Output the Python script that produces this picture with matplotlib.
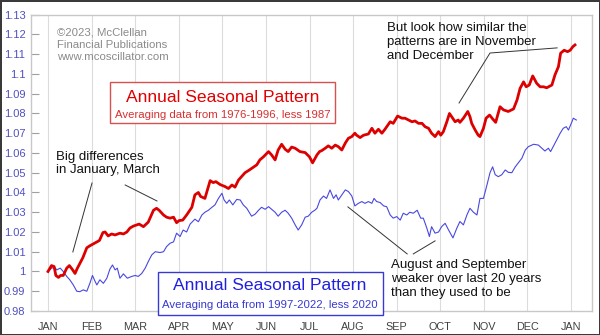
import matplotlib
matplotlib.use("Agg")
import matplotlib.pyplot as plt
from matplotlib.patches import Rectangle

plt.rcParams['font.family'] = ['Liberation Sans', 'DejaVu Sans']

# x positions are in months from Jan 1 (0 = JAN, 12 = next JAN)
red_x = [0.00, 0.08, 0.14, 0.18, 0.24, 0.29, 0.35, 0.43, 0.49, 0.56, 0.62, 0.67, 0.73, 0.80, 0.89, 0.96,
         1.04, 1.12, 1.18, 1.26, 1.31, 1.38, 1.46, 1.54, 1.65, 1.73, 1.81, 1.88, 1.96, 2.04, 2.09, 2.19,
         2.30, 2.42, 2.49, 2.55, 2.65, 2.72, 2.80, 2.88, 2.95, 3.01, 3.09, 3.18, 3.30, 3.37, 3.45, 3.50,
         3.60, 3.72, 3.79, 3.85, 3.95, 4.06, 4.14, 4.22, 4.29, 4.37, 4.44, 4.52, 4.62, 4.71, 4.79, 4.86,
         4.94, 5.06, 5.13, 5.21, 5.28, 5.36, 5.44, 5.51, 5.59, 5.67, 5.78, 5.90, 6.00, 6.07, 6.17, 6.23,
         6.28, 6.36, 6.43, 6.51, 6.59, 6.66, 6.74, 6.82, 6.89, 6.97, 7.04, 7.08, 7.16, 7.24, 7.35, 7.43,
         7.50, 7.58, 7.66, 7.73, 7.85, 7.92, 8.02, 8.12, 8.19, 8.27, 8.35, 8.42, 8.50, 8.58, 8.65, 8.73,
         8.80, 8.88, 8.96, 9.01, 9.07, 9.15, 9.21, 9.26, 9.34, 9.41, 9.45, 9.53, 9.63, 9.68, 9.72, 9.80,
         9.87, 9.91, 9.99, 10.05, 10.13, 10.21, 10.27, 10.37, 10.45, 10.56, 10.68, 10.76, 10.83, 10.91,
         10.97, 11.04, 11.12, 11.21, 11.29, 11.37, 11.44, 11.56, 11.63, 11.71, 11.76, 11.84, 11.92, 11.98,
         12.04, 12.09]
red_v = [1.000, 1.003, 1.0025, 0.998, 0.997, 0.998, 0.998, 1.0017, 1.003, 1.001, 0.999, 1.0015, 1.004,
         1.007, 1.012, 1.013, 1.014, 1.015, 1.0157, 1.0197, 1.020, 1.018, 1.019, 1.0185, 1.0194, 1.019,
         1.020, 1.022, 1.023, 1.0236, 1.024, 1.0227, 1.025, 1.031, 1.032, 1.031, 1.0286, 1.0275, 1.027,
         1.0275, 1.0247, 1.0258, 1.026, 1.0286, 1.0325, 1.0388, 1.040, 1.038, 1.037, 1.046, 1.045, 1.0455,
         1.044, 1.043, 1.042, 1.0438, 1.0427, 1.0463, 1.048, 1.050, 1.0514, 1.0528, 1.054, 1.0565, 1.058,
         1.0607, 1.059, 1.0565, 1.0615, 1.0644, 1.0619, 1.0607, 1.063, 1.0624, 1.0607, 1.0602, 1.058,
         1.055, 1.059, 1.0607, 1.0612, 1.0624, 1.0636, 1.0624, 1.064, 1.0632, 1.0615, 1.065, 1.0674,
         1.0683, 1.070, 1.069, 1.0678, 1.069, 1.0696, 1.0725, 1.070, 1.072, 1.070, 1.072, 1.0758, 1.075,
         1.0787, 1.0776, 1.0776, 1.0767, 1.0758, 1.0762, 1.075, 1.075, 1.0733, 1.0725, 1.070, 1.0683,
         1.0708, 1.069, 1.0708, 1.0758, 1.080, 1.0784, 1.0758, 1.0767, 1.0755, 1.0776, 1.081, 1.0784,
         1.075, 1.0716, 1.069, 1.0683, 1.0725, 1.0776, 1.0792, 1.077, 1.0755, 1.0834, 1.0818, 1.081,
         1.0823, 1.0868, 1.0927, 1.096, 1.0935, 1.0944, 1.099, 1.0953, 1.0935, 1.0935, 1.093, 1.0944,
         1.0995, 1.1037, 1.1105, 1.112, 1.1113, 1.112, 1.1138, 1.1147]

blue_x = [0.00, 0.08, 0.16, 0.20, 0.28, 0.35, 0.43, 0.50, 0.58, 0.66, 0.73, 0.81, 0.89, 0.96, 1.02, 1.08,
          1.12, 1.19, 1.27, 1.35, 1.42, 1.48, 1.54, 1.59, 1.65, 1.73, 1.82, 1.92, 2.00, 2.07, 2.15, 2.23,
          2.30, 2.38, 2.46, 2.57, 2.65, 2.72, 2.80, 2.88, 2.95, 3.03, 3.10, 3.18, 3.26, 3.37, 3.45, 3.53,
          3.60, 3.68, 3.76, 3.83, 3.91, 3.99, 4.04, 4.10, 4.16, 4.24, 4.33, 4.41, 4.48, 4.56, 4.67, 4.75,
          4.83, 4.90, 4.98, 5.06, 5.13, 5.21, 5.28, 5.36, 5.44, 5.51, 5.59, 5.67, 5.74, 5.82, 5.90, 5.97,
          6.05, 6.12, 6.17, 6.24, 6.32, 6.39, 6.47, 6.55, 6.61, 6.66, 6.74, 6.82, 6.89, 6.97, 7.04, 7.12,
          7.20, 7.27, 7.35, 7.43, 7.48, 7.54, 7.62, 7.70, 7.77, 7.85, 7.92, 8.00, 8.08, 8.15, 8.23, 8.30,
          8.38, 8.47, 8.55, 8.61, 8.69, 8.75, 8.80, 8.88, 8.96, 9.03, 9.11, 9.19, 9.29, 9.38, 9.45, 9.53,
          9.61, 9.68, 9.76, 9.84, 9.91, 9.99, 10.07, 10.14, 10.20, 10.26, 10.33, 10.41, 10.49, 10.56,
          10.64, 10.72, 10.79, 10.87, 10.95, 11.02, 11.14, 11.25, 11.33, 11.40, 11.48, 11.53, 11.59,
          11.67, 11.75, 11.82, 11.89, 11.94, 12.02, 12.05, 12.12]
blue_v = [1.000, 1.0017, 1.002, 1.0008, 1.0017, 1.000, 0.9975, 0.9958, 0.9932, 0.990, 0.9898, 0.9907,
          0.990, 0.994, 0.998, 0.995, 0.9932, 0.9958, 0.994, 0.9966, 1.0012, 1.0033, 1.0008, 1.0017,
          0.9966, 0.9988, 0.9966, 0.9975, 0.998, 0.9975, 0.999, 1.0017, 1.005, 1.0084, 1.010, 1.0096,
          1.010, 1.0126, 1.0143, 1.015, 1.0194, 1.0177, 1.021, 1.020, 1.024, 1.0265, 1.0252, 1.0286,
          1.030, 1.031, 1.0325, 1.0337, 1.037, 1.0396, 1.0362, 1.0345, 1.0362, 1.0337, 1.0365, 1.0362,
          1.0337, 1.032, 1.028, 1.029, 1.031, 1.0325, 1.0315, 1.0328, 1.0315, 1.030, 1.028, 1.030, 1.031,
          1.0295, 1.027, 1.0236, 1.021, 1.0236, 1.0275, 1.028, 1.030, 1.031, 1.032, 1.0362, 1.0382, 1.037,
          1.0413, 1.037, 1.0388, 1.0362, 1.0388, 1.0413, 1.0405, 1.0382, 1.0332, 1.0345, 1.0354, 1.0345,
          1.0354, 1.0345, 1.037, 1.0354, 1.0349, 1.0332, 1.0328, 1.0286, 1.027, 1.0278, 1.026, 1.0295,
          1.0286, 1.030, 1.0295, 1.031, 1.027, 1.027, 1.022, 1.0177, 1.0227, 1.0194, 1.020, 1.0227,
          1.0244, 1.021, 1.017, 1.022, 1.0253, 1.0236, 1.0286, 1.032, 1.030, 1.0286, 1.037, 1.037, 1.0438,
          1.050, 1.053, 1.049, 1.048, 1.049, 1.0514, 1.0502, 1.050, 1.053, 1.055, 1.0573, 1.0615, 1.0632,
          1.0644, 1.064, 1.0624, 1.061, 1.0624, 1.0607, 1.0632, 1.0666, 1.070, 1.0725, 1.0733, 1.0716,
          1.0758, 1.0776, 1.0767]

month_labels = ['JAN', 'FEB', 'MAR', 'APR', 'MAY', 'JUN', 'JUL', 'AUG', 'SEP', 'OCT', 'NOV', 'DEC', 'JAN']
y_ticks = [0.98, 0.99, 1.00, 1.01, 1.02, 1.03, 1.04, 1.05, 1.06, 1.07, 1.08, 1.09, 1.10, 1.11, 1.12, 1.13]

W, H = 600, 335
fig = plt.figure(figsize=(6.0, 3.35), dpi=100)
fig.patch.set_facecolor('white')
fig.patch.set_edgecolor('#3a3a3a')
fig.patch.set_linewidth(2.0)

ax = fig.add_axes([31 / W, 1 - 311 / H, (592 - 31) / W, (311 - 14.7) / H])
ax.set_xlim(-0.39, 12.48)
ax.set_ylim(0.98, 1.13)

for s in ax.spines.values():
    s.set_color('#c8c8c8')
    s.set_linewidth(1.0)

ax.set_xticks(range(13))
ax.set_xticklabels(month_labels)
ax.grid(axis='x', color='#dcdcdc', linewidth=0.8)
ax.tick_params(axis='x', length=0, pad=8, labelsize=7.8, labelcolor='#404040')

ax.set_yticks(y_ticks)
ax.set_yticklabels(['%g' % t for t in y_ticks])
ax.tick_params(axis='y', direction='in', length=6, width=0.8, color='#a0a0a0',
               labelsize=8, labelcolor='#5050c0', pad=4)

ax.plot(blue_x, blue_v, color='#4848e0', linewidth=0.8, zorder=3)
ax.plot(red_x, red_v, color='#dd0000', linewidth=2.0, zorder=4)

# copyright
fig.text(57 / W, 1 - 45 / H, '©2023, McClellan\nFinancial Publications\nwww.mcoscillator.com',
         ha='left', va='center', fontsize=8.2, color='#8a8a8a', linespacing=1.3)

# red box
fig.add_artist(Rectangle((110 / W, 1 - 123 / H), 225 / W, 41 / H, transform=fig.transFigure,
                         facecolor='white', edgecolor='#d85050', linewidth=1.0, zorder=5))
fig.text(222.5 / W, 1 - 98 / H, 'Annual Seasonal Pattern', ha='center', va='center',
         fontsize=12.6, color='#e00000', zorder=6)
fig.text(222.5 / W, 1 - 115 / H, 'Averaging data from 1976-1996, less 1987', ha='center', va='center',
         fontsize=8.2, color='#d83030', zorder=6)

# blue box
fig.add_artist(Rectangle((158 / W, 1 - 315 / H), 225 / W, 43 / H, transform=fig.transFigure,
                         facecolor='white', edgecolor='#3838d8', linewidth=1.0, zorder=5))
fig.text(270 / W, 1 - 285 / H, 'Annual Seasonal Pattern', ha='center', va='center',
         fontsize=12.6, color='#2020e0', zorder=6)
fig.text(270 / W, 1 - 305 / H, 'Averaging data from 1997-2022, less 2020', ha='center', va='center',
         fontsize=8.2, color='#3838d0', zorder=6)

# annotations
ann_kw = dict(fontsize=9.5, color='#111111', ha='left', va='center', linespacing=1.2)
fig.text(56 / W, 1 - 163.5 / H, 'Big differences\nin January, March', **ann_kw)
fig.text(387 / W, 1 - 42 / H, 'But look how similar the\npatterns are in November\nand December', **ann_kw)
fig.text(391 / W, 1 - 279 / H, 'August and September\nweaker over last 20 years\nthan they used to be', **ann_kw)

lk = dict(color='#333333', linewidth=0.7, zorder=5)
ax.plot([1.01, 0.57], [1.0448, 1.0099], **lk)
ax.plot([1.77, 2.50], [1.0438, 1.0357], **lk)
ax.plot([9.43, 10.14, 11.68], [1.0853, 1.1106, 1.1132], **lk)
ax.plot([6.88, 8.24], [1.0327, 1.0089], **lk)
ax.plot([8.38, 8.88], [1.0089, 1.0155], **lk)

fig.savefig('out.png', dpi=100, facecolor='white', edgecolor=fig.get_edgecolor())
